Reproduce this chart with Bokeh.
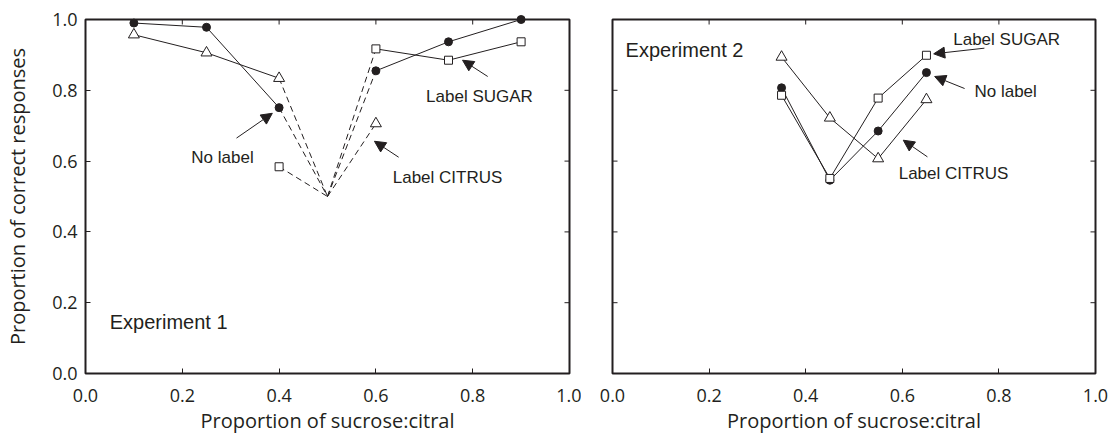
import math
from bokeh.plotting import figure
from bokeh.models import FixedTicker, PrintfTickFormatter, Label, Arrow, NormalHead
from bokeh.layouts import row
from bokeh.embed import file_html
from bokeh.resources import INLINE

INK = "#231f20"

# ---------------- data ----------------
tick_values = [0.0, 0.2, 0.4, 0.6, 0.8, 1.0]
chance_x = 0.5

exp1_x = [0.10, 0.25, 0.40, 0.50, 0.60, 0.75, 0.90]
exp1_nolabel = [0.990, 0.978, 0.751, 0.50, 0.855, 0.937, 1.000]
exp1_citrus = [0.957, 0.906, 0.834, 0.50, 0.706, None, None]
exp1_sugar = [None, None, 0.584, 0.50, 0.917, 0.885, 0.937]

exp2_x = [0.35, 0.45, 0.55, 0.65]
exp2_nolabel = [0.807, 0.546, 0.685, 0.850]
exp2_citrus = [0.894, 0.722, 0.607, 0.774]
exp2_sugar = [0.786, 0.551, 0.778, 0.899]

x_title = "Proportion of sucrose:citral"
y_title = "Proportion of correct responses"

# annotations: (text, x, y) and arrows (x_start, y_start, x_end, y_end)
exp1_texts = [("No label", 0.283, 0.611), ("Label SUGAR", 0.814, 0.783), ("Label CITRUS", 0.748, 0.555)]
exp1_arrows = [(0.312, 0.665, 0.386, 0.735), (0.831, 0.839, 0.779, 0.885), (0.647, 0.611, 0.597, 0.656)]
exp2_texts = [("Label SUGAR", 0.816, 0.944), ("No label", 0.814, 0.798), ("Label CITRUS", 0.706, 0.565)]
exp2_arrows = [(0.770, 0.919, 0.665, 0.903), (0.729, 0.805, 0.667, 0.839), (0.652, 0.612, 0.602, 0.659)]

TICK_FONT = "Open Sans"
NOTE_FONT = "Liberation Sans"


def style_axis(ax, title):
    ax.ticker = FixedTicker(ticks=tick_values)
    ax.formatter = PrintfTickFormatter(format="%.1f")
    ax.axis_line_color = None
    ax.major_tick_in = 5
    ax.major_tick_out = 0
    ax.minor_tick_in = 0
    ax.minor_tick_out = 0
    ax.major_tick_line_color = INK
    ax.major_tick_line_width = 1
    ax.major_label_text_font = TICK_FONT
    ax.major_label_text_color = INK
    ax.major_label_text_font_size = "18px"
    ax.axis_label = title
    ax.axis_label_text_font = TICK_FONT
    ax.axis_label_text_font_size = "20px"
    ax.axis_label_text_font_style = "normal"
    ax.axis_label_text_color = INK


def inner_ticks(p, sides):
    n = len(tick_values)
    x0, x1 = p.x_range.start, p.x_range.end
    y0, y1 = p.y_range.start, p.y_range.end
    if "top" in sides:
        p.scatter(tick_values, [y1] * n, marker="dash", angle=math.pi / 2, size=10,
                  line_color=INK, line_width=1)
    if "right" in sides:
        p.scatter([x1] * n, tick_values, marker="dash", angle=0, size=10,
                  line_color=INK, line_width=1)
    if "left" in sides:
        p.scatter([x0] * n, tick_values, marker="dash", angle=0, size=10,
                  line_color=INK, line_width=1)


def make_fig(width, left, right, ylabels):
    p = figure(width=width, height=436, x_range=(0, 1), y_range=(0, 1),
               toolbar_location=None, output_backend="svg",
               min_border_left=left, min_border_right=right,
               min_border_top=19, min_border_bottom=62)
    p.grid.visible = False
    p.outline_line_color = INK
    p.outline_line_width = 2
    p.outline_line_alpha = 1
    p.background_fill_color = "white"
    p.border_fill_color = "white"
    style_axis(p.xaxis[0], x_title)
    p.xaxis[0].major_label_standoff = 15
    p.xaxis[0].axis_label_standoff = 2
    if ylabels:
        style_axis(p.yaxis[0], y_title)
        p.yaxis[0].major_label_standoff = 8
        p.yaxis[0].axis_label_standoff = 18
        inner_ticks(p, ["top", "right"])
    else:
        p.yaxis.visible = False
        inner_ticks(p, ["top", "right", "left"])
    return p


def draw_series(p, xs, ys, marker, filled, size):
    pts = [(x, y) for x, y in zip(xs, ys) if y is not None]
    for (xa, ya), (xb, yb) in zip(pts[:-1], pts[1:]):
        dashed = (xa == chance_x) or (xb == chance_x)
        p.line([xa, xb], [ya, yb], line_color=INK, line_width=1,
               line_dash="6 4" if dashed else "solid")
    mx = [x for x, y in pts if x != chance_x]
    my = [y for x, y in pts if x != chance_x]
    p.scatter(mx, my, marker=marker, size=size, line_color=INK, line_width=1,
              fill_color=INK if filled else "white", level="overlay")


def annotate(p, texts, arrows):
    for t, x, y in texts:
        p.add_layout(Label(x=x, y=y, text=t, text_align="center", text_baseline="middle",
                           text_font=NOTE_FONT, text_font_size="17px", text_color=INK))
    for xa, ya, xb, yb in arrows:
        p.add_layout(Arrow(end=NormalHead(size=11, fill_color=INK, line_color=INK, line_width=1),
                           x_start=xa, y_start=ya, x_end=xb, y_end=yb,
                           line_color=INK, line_width=1))


p1 = make_fig(581, 85, 12, True)
draw_series(p1, exp1_x, exp1_nolabel, "circle", True, 8)
draw_series(p1, exp1_x, exp1_citrus, "triangle", False, 11)
draw_series(p1, exp1_x, exp1_sugar, "square", False, 8)
annotate(p1, exp1_texts, exp1_arrows)
p1.add_layout(Label(x=0.05, y=0.145, text="Experiment 1", text_align="left", text_baseline="middle",
                    text_font=NOTE_FONT, text_font_size="20px", text_color=INK))

p2 = make_fig(534, 31, 20, False)
draw_series(p2, exp2_x, exp2_nolabel, "circle", True, 8)
draw_series(p2, exp2_x, exp2_citrus, "triangle", False, 11)
draw_series(p2, exp2_x, exp2_sugar, "square", False, 8)
annotate(p2, exp2_texts, exp2_arrows)
p2.add_layout(Label(x=0.027, y=0.915, text="Experiment 2", text_align="left", text_baseline="middle",
                    text_font=NOTE_FONT, text_font_size="20px", text_color=INK))

layout = row(p1, p2)
open("out.html", "w").write(file_html(layout, INLINE))
